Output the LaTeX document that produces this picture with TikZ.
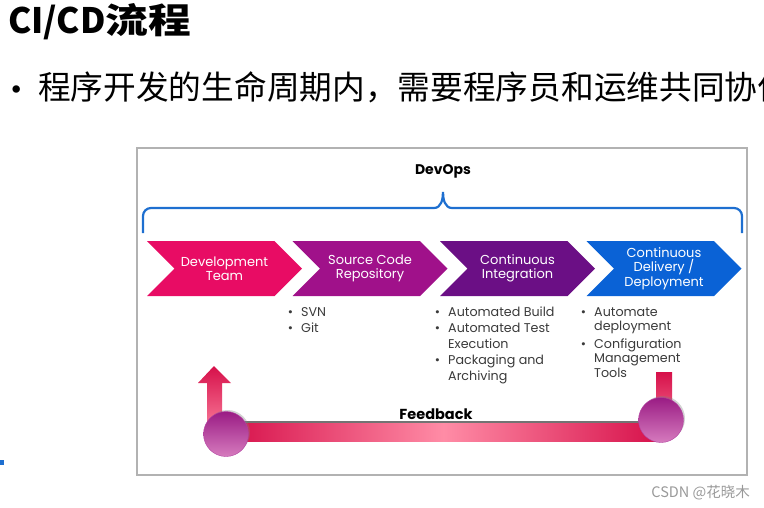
\documentclass[tikz,border=0pt]{standalone}
\usepackage{fontspec}
\setmainfont{Poppins}
\newfontfamily\cjk{Noto Sans CJK SC}
\usetikzlibrary{positioning,shapes.symbols,shadows}
\definecolor{devpink}{HTML}{E80C64}
\definecolor{srcmag}{HTML}{A0118A}
\definecolor{cipurp}{HTML}{6B0F85}
\definecolor{cdblue}{HTML}{0A62D6}
\definecolor{braceblue}{HTML}{1E6FD0}
\definecolor{fbred}{HTML}{D6104A}
\definecolor{fblight}{HTML}{FF8CA6}
\definecolor{ballpurp}{HTML}{9A1C84}
\definecolor{balllight}{HTML}{D67BBE}
\definecolor{bultext}{HTML}{3A3A3A}
\def\itm{\llap{\textbullet\hspace{8pt}}}

\begin{document}
\begin{tikzpicture}[x=1pt, y=-1pt,
  chevron/.style={signal, signal to=east, signal from=west, minimum width=155pt, minimum height=55pt, inner sep=0pt, text=white, align=center, font=\fontsize{13}{14.5}\selectfont},
  bullist/.style={anchor=north west, inner sep=0pt, align=left, text=bultext, font=\fontsize{12.7}{16}\selectfont},
  ball/.style={circle, minimum size=45pt, inner sep=0pt, draw=srcmag!80, top color=ballpurp, bottom color=balllight, drop shadow={opacity=0.35, shadow xshift=1.5pt, shadow yshift=1.5pt}},
  feedbar/.style={left color=fbred, right color=fbred, middle color=fblight}]
		\useasboundingbox (0,0) rectangle (764,507);
		% slide heading
		\draw (8,33)node[anchor=base west, inner sep=0pt](title){\cjk\bfseries\fontsize{35}{40}\selectfont CI/CD\scalebox{1.22}[1]{流程}};
		\draw (10,99)node[anchor=base west, inner sep=0pt](point){\makebox[28pt][l]{\fontsize{30}{36}\selectfont\textbullet}\cjk\fontsize{32.7}{36}\selectfont 程序开发的生命周期内，需要程序员和运维共同协作};
		\fill[braceblue] (0,460) rectangle (4,465);
		% picture frame
		\draw[gray!60, line width=1.2pt] (137,148) rectangle (747,475);
		\draw (443,171)node(devops){\bfseries\fontsize{14}{16}\selectfont DevOps};
		\draw[braceblue, line width=2.2pt] (143,233) -- (143,216) to[out=90,in=180] (151,208) -- (434,208) to[out=0,in=-90] (443,192) to[out=-90,in=180] (452,208) -- (734,208) to[out=0,in=90] (742,216) -- (742,233);
		% the four stages
		\draw (224.5,268.5)node[chevron, fill=devpink](dev){Development\\Team};
		\draw (370,268.5)node[chevron, fill=srcmag](src){Source Code\\Repository};
		\draw (517.5,268.5)node[chevron, fill=cipurp](ci){Continuous\\Integration};
		\draw (664,268.5)node[chevron, fill=cdblue](cd){Continuous\\Delivery /\\Deployment};
		\draw (301,307)node[bullist](srcitems){\itm SVN\\\itm Git};
		\draw (448,307)node[bullist](ciitems){\itm Automated Build\\\itm Automated Test\\Execution\\\itm Packaging and\\Archiving};
		\draw (594,307)node[bullist, font=\fontsize{12.7}{14.5}\selectfont](cditems){\itm Automate\\deployment\\[3pt]\itm Configuration\\Management\\Tools};
		% feedback loop
		\coordinate (fbL) at (226,434);
		\coordinate (fbR) at (661,420);
		\fill[black!55] (fbL |- 0,421) rectangle (fbR |- 0,439);
		\shade[feedbar] (fbL |- 0,423) rectangle (fbR |- 0,441);
		\shade[top color=fbred, bottom color=fblight!80!fbred] (214,366) -- (231,383) -- (222,383) -- (222,425) -- (207,425) -- (207,383) -- (198,383) -- cycle;
		\shade[top color=fbred, bottom color=fblight!70!fbred] (656,372) rectangle (672,422);
		\draw (fbL)node[ball](fbLball){};
		\draw (fbR)node[ball](fbRball){};
		\draw (436,414)node(feedback){\bfseries\fontsize{14.5}{16}\selectfont Feedback};
		\draw (750,497)node[anchor=base east, inner sep=0pt](mark){\cjk\color{gray!80}\fontsize{14.5}{16}\selectfont CSDN @花晓木};
\end{tikzpicture}
\end{document}
